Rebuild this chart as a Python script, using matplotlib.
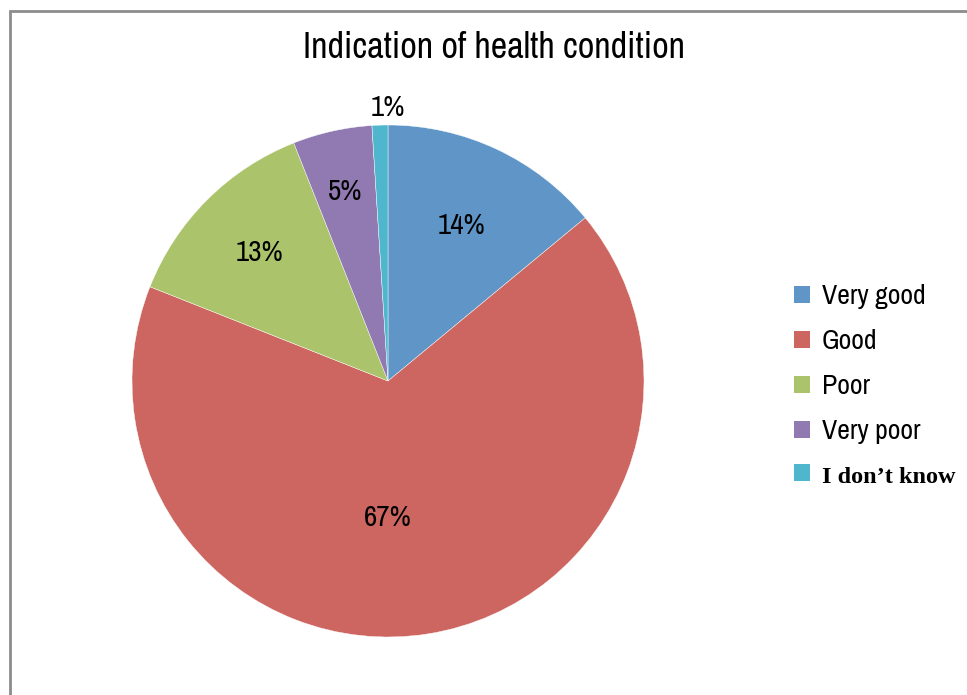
import numpy as np
import matplotlib
matplotlib.use("Agg")
from matplotlib import pyplot as plt
from matplotlib.patches import Rectangle

plt.rcParams['font.family'] = ['Archivo Narrow', 'DejaVu Sans']

# data
labels = ["Very good", "Good", "Poor", "Very poor", "I don\u2019t know"]
values = [14, 67, 13, 5, 1]
colors = ["#5F96C7", "#CD6660", "#ABC46B", "#9179B1", "#4FB6CE"]
# how far out each percent label sits (fraction of the radius)
label_dist = [0.67, 0.54, 0.71, 0.76, 1.07]

fig = plt.figure(figsize=(9.67, 6.95), dpi=100)

# grey frame of the chart area
fig.patches.append(Rectangle((10 / 967, -0.05), 1.2, (695 - 11) / 695 + 0.05,
                             transform=fig.transFigure, fill=False,
                             edgecolor="#8C8C8C", linewidth=2))

ax = fig.add_axes([(388 - 256) / 967, (695 - 381 - 256) / 695, 512 / 967, 512 / 695])
wedges, _ = ax.pie(values, colors=colors, startangle=90, counterclock=False,
                   radius=1.0, wedgeprops=dict(edgecolor="white", linewidth=0.3))
ax.set_xlim(-1, 1)
ax.set_ylim(-1, 1)
ax.set_aspect("equal")
ax.axis("off")

for w, v, d in zip(wedges, values, label_dist):
    ang = np.deg2rad((w.theta1 + w.theta2) / 2)
    x, y = d * np.cos(ang), d * np.sin(ang)
    if v in (67, 1):
        x = 0.0
    ax.text(x, y, f"{v}%", ha="center", va="center", fontsize=21)

fig.text(494 / 967, 1 - 47 / 695, "Indication of health condition",
         ha="center", va="center", fontsize=26)

handles = [Rectangle((0, 0), 1, 1, facecolor=c) for c in colors]
leg = fig.legend(handles, labels, loc="center left",
                 bbox_to_anchor=(772 / 967, 1 - 386 / 695), frameon=False,
                 fontsize=20, handlelength=0.55, handleheight=0.55,
                 handletextpad=0.45, labelspacing=0.72, borderpad=0.3)
last = leg.get_texts()[-1]
last.set_family("Liberation Serif")
last.set_weight("bold")
last.set_fontsize(17.5)

fig.savefig("out.png", dpi=100)
